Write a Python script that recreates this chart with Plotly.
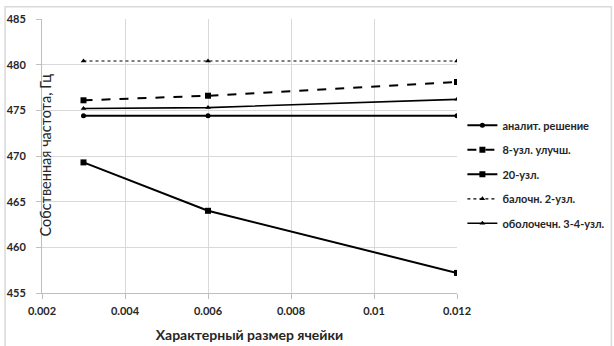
import plotly.graph_objects as go

# Cell size (x) and natural frequency (Hz) for each model
cell_size = [0.003, 0.006, 0.012]
analytic = [474.4, 474.4, 474.4]
hex8_improved = [476.1, 476.6, 478.1]
hex20 = [469.3, 464.0, 457.2]
beam2 = [480.4, 480.4, 480.4]
shell34 = [475.2, 475.3, 476.2]

series_names = [
    "аналит. решение",
    "8-узл. улучш.",
    "20-узл.",
    "балочн. 2-узл.",
    "оболочечн. 3-4-узл.",
]

x_ticks = [0.002, 0.004, 0.006, 0.008, 0.010, 0.012]
x_tick_labels = ["0.002", "0.004", "0.006", "0.008", "0.01", "0.012"]
y_ticks = [455, 460, 465, 470, 475, 480, 485]
y_tick_labels = ["455", "460", "465", "470", "475", "480", "485"]

FONT = "Lato"
GRID = "#d9d9d9"

styles = [
    dict(line=dict(color="black", width=2), marker=dict(symbol="circle", size=5)),
    dict(line=dict(color="black", width=2, dash="dash"), marker=dict(symbol="square", size=6)),
    dict(line=dict(color="black", width=2), marker=dict(symbol="square", size=6)),
    dict(line=dict(color="black", width=1.2, dash="dot"), marker=dict(symbol="triangle-up", size=5)),
    dict(line=dict(color="black", width=1.6), marker=dict(symbol="triangle-up", size=5)),
]

fig = go.Figure()
for i, (name, ys, st) in enumerate(zip(series_names,
                                        [analytic, hex8_improved, hex20, beam2, shell34],
                                        styles)):
    fig.add_trace(go.Scatter(
        x=cell_size, y=ys, name=name, mode="lines+markers",
        line=st["line"], marker=dict(color="black", **st["marker"]),
        legendgroup=f"g{i}",
    ))

fig.update_layout(
    width=614, height=346,
    margin=dict(l=42, r=156.5, t=19.3, b=53.3, autoexpand=False),
    paper_bgcolor="white", plot_bgcolor="white",
    font=dict(family=FONT, size=11, color="#262626"),
    showlegend=True,
    legend=dict(
        x=1.013, xanchor="left", y=0.665, yanchor="top",
        font=dict(family=FONT, size=11, color="#262626", weight="bold"),
        tracegroupgap=5.5, bgcolor="rgba(0,0,0,0)",
        traceorder="grouped", itemwidth=30,
    ),
    xaxis=dict(
        range=[0.002, 0.012], tickvals=x_ticks, ticktext=x_tick_labels,
        showgrid=True, gridcolor=GRID, gridwidth=1,
        showline=True, linecolor="#bfbfbf", linewidth=1,
        ticks="outside", ticklen=5, tickcolor="#bfbfbf",
        tickfont=dict(family=FONT, size=11, color="#262626", weight="bold"),
        ticklabelstandoff=3,
        zeroline=False, automargin=False,
        title=dict(text="Характерный размер ячейки", standoff=13,
                   font=dict(family=FONT, size=14, color="#262626", weight="bold")),
    ),
    yaxis=dict(
        range=[455, 485], tickvals=y_ticks, ticktext=y_tick_labels,
        showgrid=True, gridcolor=GRID, gridwidth=1,
        showline=True, linecolor="#bfbfbf", linewidth=1,
        ticks="outside", ticklen=5, tickcolor="#bfbfbf",
        tickfont=dict(family=FONT, size=11, color="#262626", weight="bold"),
        ticklabelstandoff=8,
        zeroline=False, automargin=False,
    ),
)

# Vertical axis caption sits just inside the plotting area
fig.add_annotation(
    text="Собственная частота, Гц", textangle=-90,
    xref="paper", yref="paper", x=0.0096, y=0.505,
    xanchor="center", yanchor="middle", showarrow=False,
    font=dict(family=FONT, size=14.5, color="#262626"),
)

# Light chart-area frame
fig.add_shape(
    type="rect", xref="paper", yref="paper",
    x0=-0.089, x1=1.372, y0=-0.3, y1=1.045,
    line=dict(color="#d9d9d9", width=1.5), fillcolor="rgba(0,0,0,0)", layer="below",
)

fig.write_html("out.html")
